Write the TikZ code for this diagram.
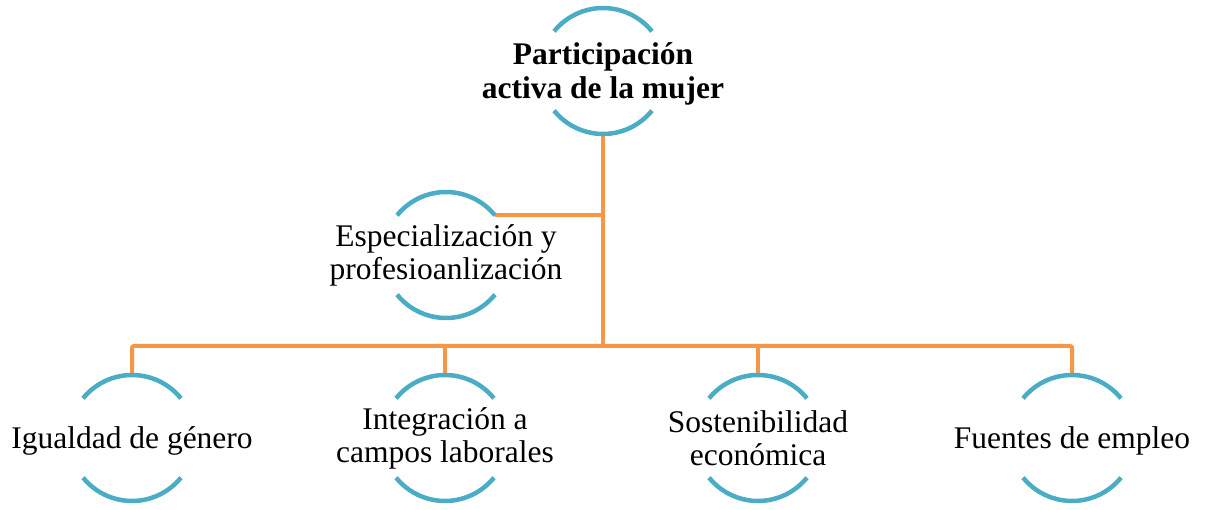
\documentclass[tikz,border=0pt]{standalone}
\usepackage{fontspec}
\setmainfont{Liberation Serif}
\definecolor{aro}{HTML}{4BACC6}
\definecolor{rama}{HTML}{F79646}

\begin{document}
\begin{tikzpicture}[x=1pt,y=1pt]

        \useasboundingbox (0,0) rectangle (1206,510);

        \begin{scope}[every node/.style={circle, minimum size=126pt, inner sep=0pt, outer sep=0pt},
                      every label/.style={align=center, font=\fontsize{31.5}{33}\selectfont}]
          \node (top) at (603,439)  [label={[yshift=-3pt, font=\fontsize{31.5}{34}\selectfont\bfseries]center:Participación\\activa de la mujer}] {};
          \node (esp) at (446,255)  [label=center:Especialización y\\profesioanlización] {};
          \node (igu) at (132,72)   [label={[yshift=-3pt]center:Igualdad de género}] {};
          \node (int) at (445,72)   [label=center:Integración a\\campos laborales] {};
          \node (sos) at (758,72)   [label=center:Sostenibilidad\\económica] {};
          \node (fue) at (1072,72)  [label={[yshift=-3pt]center:Fuentes de empleo}] {};
        \end{scope}

        \coordinate (bus) at (603,164);

        \begin{scope}[every path/.style={draw=rama, line width=4pt, rounded corners=2pt}]
          \path (top.south) -- (bus);
          \path (esp.39) -- (esp.39 -| bus);
          \path (igu.north) |- (bus) -| (fue.north);
          \path (int.north) -- (int.north |- bus);
          \path (sos.north) -- (sos.north |- bus);
        \end{scope}

        \begin{scope}[every path/.style={draw=aro, line width=4.5pt}]
          \foreach \n in {top,esp,igu,int,sos,fue} {
            \path (\n.39) arc[start angle=39, end angle=141, radius=63];
            \path (\n.-39) arc[start angle=-39, end angle=-141, radius=63];
          }
        \end{scope}

      \end{tikzpicture}
\end{document}
